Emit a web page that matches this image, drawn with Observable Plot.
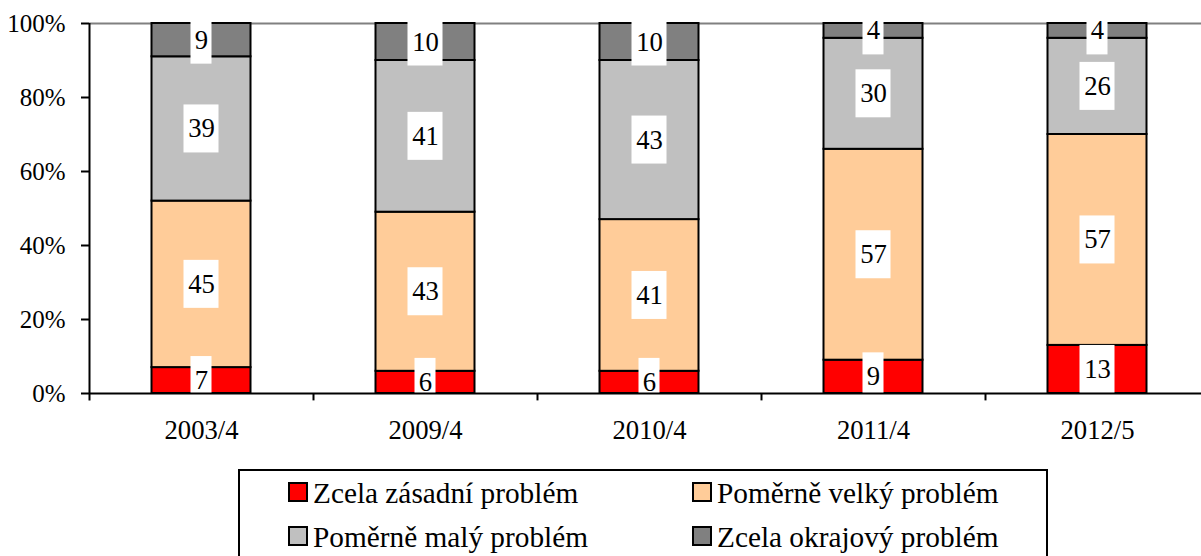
<!DOCTYPE html>
<html><head><meta charset="utf-8">
<script src="https://cdn.jsdelivr.net/npm/d3@7"></script>
<script src="https://cdn.jsdelivr.net/npm/@observablehq/plot@0.6"></script>
<style>
body{margin:0;background:#fff;font-family:'Liberation Serif',serif;}
#wrap{position:relative;width:1201px;height:556px;overflow:hidden;font-family:'Liberation Serif',serif;}
#legend{position:absolute;left:238px;top:469px;width:810px;height:120px;border:2px solid #000;box-sizing:border-box;font-family:'Liberation Serif',serif;}
.item{position:absolute;display:flex;align-items:center;font-size:29.3px;line-height:34px;white-space:nowrap;color:#000;font-family:'Liberation Serif',serif;}
.sw{width:20px;height:20px;border:2px solid #000;box-sizing:border-box;margin-right:5px;position:relative;top:-1px}
svg text{font-family:'Liberation Serif',serif;}
</style></head><body><div id="wrap"></div>
<script>
const categories = ["2003/4","2009/4","2010/4","2011/4","2012/5"];
const seriesNames = ["Zcela zásadní problém","Poměrně velký problém","Poměrně malý problém","Zcela okrajový problém"];
const seriesColors = ["#ff0000","#ffcc99","#c0c0c0","#808080"];
const zasadni = [7,6,6,9,13];
const velky = [45,43,41,57,57];
const maly = [39,41,43,30,26];
const okrajovy = [9,10,10,4,4];
const yTicks = [0,20,40,60,80,100];

const FONT = "'Liberation Serif', serif";
const seriesValues = [zasadni, velky, maly, okrajovy];
const rows = [];
categories.forEach((c, i) => {
  let acc = 0;
  seriesValues.forEach((vals, s) => {
    const v = vals[i];
    rows.push({cat: c, series: seriesNames[s], value: v, lo: acc, hi: acc + v, mid: acc + v / 2});
    acc += v;
  });
});
const oneDigit = rows.filter(d => String(d.value).length === 1);
const twoDigit = rows.filter(d => String(d.value).length > 1);

const chart = Plot.plot({
  width: 1201,
  height: 460,
  marginTop: 23,
  marginBottom: 67,
  marginLeft: 89,
  marginRight: 0,
  style: {fontFamily: FONT, fontSize: "26px", color: "#000", background: "#fff"},
  x: {domain: categories, range: [89, 1209], padding: 0, label: null},
  y: {domain: [0, 100], label: null},
  color: {domain: seriesNames, range: seriesColors},
  marks: [
    Plot.ruleY([100], {stroke: "#808080", strokeWidth: 2}),
    Plot.barY(rows, {x: "cat", y1: "lo", y2: "hi", fill: "series", stroke: "#000", strokeWidth: 2, insetLeft: 62.5, insetRight: 62.5}),
    Plot.barY(twoDigit, {x: "cat", y1: "mid", y2: "mid", fill: "#fff", insetTop: -24, insetBottom: -24, insetLeft: 94.5, insetRight: 94.5}),
    Plot.barY(oneDigit, {x: "cat", y1: "mid", y2: "mid", fill: "#fff", insetTop: -24, insetBottom: -24, insetLeft: 101.5, insetRight: 101.5}),
    Plot.text(rows, {x: "cat", y: "mid", text: d => String(d.value), fontSize: 26.7, fontFamily: FONT, fill: "#000"}),
    Plot.ruleY([0], {stroke: "#000", strokeWidth: 2}),
    Plot.ruleX([categories[0]], {x: d => d, dx: -112, y1: -2, y2: 100, stroke: "#000", strokeWidth: 2}),
    Plot.ruleX(categories.slice(1), {x: d => d, dx: -112, y1: 0, y2: -2, stroke: "#000", strokeWidth: 2}),
    Plot.axisY({ticks: yTicks, tickFormat: d => d + "%", tickSize: 8, tickPadding: 16, fontSize: 25, fontFamily: FONT, strokeWidth: 2, label: null}),
    Plot.axisX({tickSize: 0, tickPadding: 27, fontSize: 26.7, fontFamily: FONT, label: null})
  ]
});
const wrap = document.getElementById("wrap");
wrap.appendChild(chart);
chart.style.position = "absolute";
chart.style.left = "0";
chart.style.top = "0";

const legend = document.createElement("div");
legend.id = "legend";
seriesNames.forEach((name, i) => {
  const item = document.createElement("div");
  item.className = "item";
  item.style.left = (i % 2 === 0 ? 48 : 452) + "px";
  item.style.top = (i < 2 ? 5 : 49) + "px";
  const sw = document.createElement("span");
  sw.className = "sw";
  sw.style.background = seriesColors[i];
  const tx = document.createElement("span");
  tx.textContent = name;
  item.appendChild(sw);
  item.appendChild(tx);
  legend.appendChild(item);
});
wrap.appendChild(legend);
</script></body></html>
